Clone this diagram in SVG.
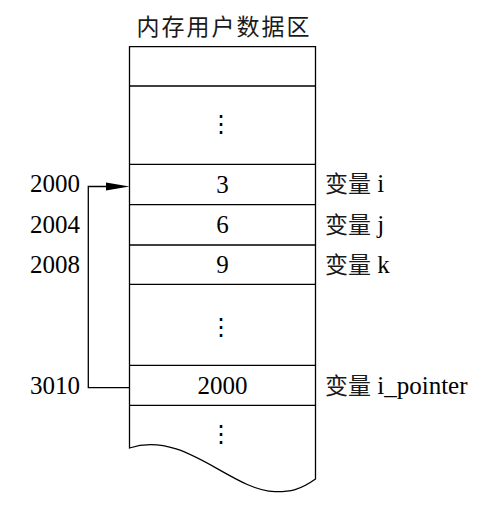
<svg xmlns="http://www.w3.org/2000/svg" width="495" height="507" viewBox="0 0 495 507">
<style>
.ln{fill:none;stroke:#000;stroke-width:1.3}
.t{font-family:"Liberation Serif","Times New Roman","Noto Sans CJK SC",serif;font-size:25px;fill:#000}
.c{font-family:"Noto Sans CJK SC",sans-serif;font-size:23px;fill:#1a1a1a}
.m{text-anchor:middle}
.d{font-family:"DejaVu Sans",sans-serif;font-size:24px;text-anchor:middle;fill:#000}
</style>
<rect width="495" height="507" fill="#fff"/>
<g id="title"><text class="c m" x="224" y="35" letter-spacing="2">内存用户数据区</text></g>
<g id="memory">
<path class="ln" d="M129.5,448 L129.5,46.7 L315.5,46.7 L315.5,479 C300,490 290,492 275,491.7 C230,490 185,430 129.5,448 Z"/>
<line class="ln" x1="129.5" y1="86" x2="315.5" y2="86"/>
<line class="ln" x1="129.5" y1="164.3" x2="315.5" y2="164.3"/>
<line class="ln" x1="129.5" y1="204.7" x2="315.5" y2="204.7"/>
<line class="ln" x1="129.5" y1="245" x2="315.5" y2="245"/>
<line class="ln" x1="129.5" y1="284.3" x2="315.5" y2="284.3"/>
<line class="ln" x1="129.5" y1="365.3" x2="315.5" y2="365.3"/>
<line class="ln" x1="129.5" y1="405.3" x2="315.5" y2="405.3"/>
</g>
<g id="cell-dots1"><text class="d" x="221" y="132">⋮</text></g>
<g id="cell-i"><text class="t m" x="222.5" y="192.5">3</text><text class="t" x="30" y="192">2000</text><text class="t" x="325" y="192"><tspan class="c">变量</tspan> i</text></g>
<g id="cell-j"><text class="t m" x="222.5" y="233">6</text><text class="t" x="30" y="233">2004</text><text class="t" x="325" y="233"><tspan class="c">变量</tspan> j</text></g>
<g id="cell-k"><text class="t m" x="222.5" y="273">9</text><text class="t" x="30" y="273">2008</text><text class="t" x="325" y="273"><tspan class="c">变量</tspan> k</text></g>
<g id="cell-dots2"><text class="d" x="221" y="335">⋮</text></g>
<g id="cell-pointer"><text class="t m" x="222.5" y="393.5">2000</text><text class="t" x="30" y="393.5">3010</text><text class="t" x="325" y="393.5"><tspan class="c">变量</tspan> i_pointer</text></g>
<g id="cell-dots3"><text class="d" x="221" y="442">⋮</text></g>
<g id="connectors">
<polyline class="ln" points="129.5,387.7 88.3,387.7 88.3,186.5 110,186.5"/>
<polygon points="106,182.5 129.5,186.5 106,190.5" fill="#000"/>
</g>
</svg>
